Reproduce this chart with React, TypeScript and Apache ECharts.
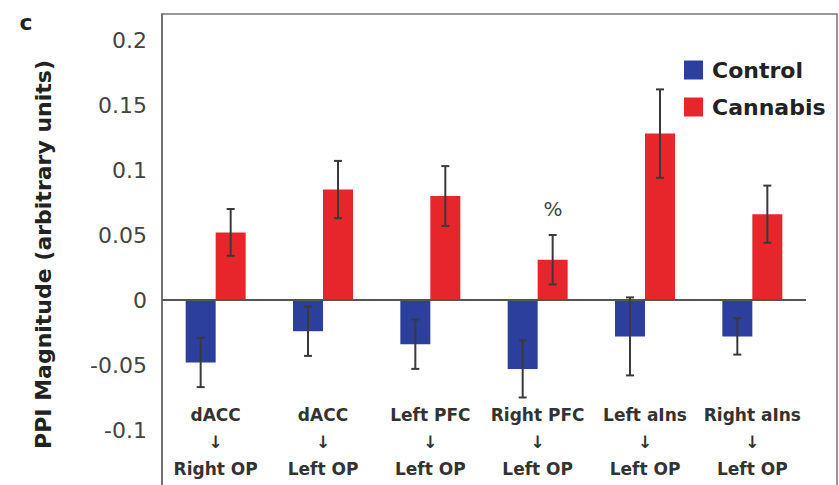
import React, { useEffect, useRef } from "react";
import * as echarts from "echarts";

const categories = [
  "dACC\n↓\nRight OP",
  "dACC\n↓\nLeft OP",
  "Left PFC\n↓\nLeft OP",
  "Right PFC\n↓\nLeft OP",
  "Left aIns\n↓\nLeft OP",
  "Right aIns\n↓\nLeft OP",
];
const controlValues = [-0.048, -0.024, -0.034, -0.053, -0.028, -0.028];
const controlErrors = [0.019, 0.019, 0.019, 0.022, 0.030, 0.014];
const cannabisValues = [0.052, 0.085, 0.080, 0.031, 0.128, 0.066];
const cannabisErrors = [0.018, 0.022, 0.023, 0.019, 0.034, 0.022];
const yTicks = { min: -0.15, max: 0.22, interval: 0.05 };

const BLUE = "#2c3f9c";
const RED = "#e6262b";
const FONT = "DejaVu Sans";
const BAR_W = 30;

function errSeries(values: number[], errors: number[], offset: number) {
  return {
    type: "custom",
    z: 5,
    data: values.map((v, i) => [i, v, errors[i]]),
    encode: { x: 0, y: 1 },
    renderItem: (params: any, api: any) => {
      const i = api.value(0);
      const v = api.value(1);
      const e = api.value(2);
      const x = api.coord([i, v])[0] + offset;
      const yTop = api.coord([i, v + e])[1];
      const yBot = api.coord([i, v - e])[1];
      const style = { stroke: "#3a3a3a", lineWidth: 2 };
      return {
        type: "group",
        children: [
          { type: "line", shape: { x1: x, y1: yTop, x2: x, y2: yBot }, style },
          { type: "line", shape: { x1: x - 4, y1: yTop, x2: x + 4, y2: yTop }, style },
          { type: "line", shape: { x1: x - 4, y1: yBot, x2: x + 4, y2: yBot }, style },
        ],
      };
    },
  };
}

export default function App() {
  const ref = useRef<HTMLDivElement>(null);
  useEffect(() => {
    if (!ref.current) return;
    const chart = echarts.init(ref.current, null, { renderer: "svg" });
    chart.setOption({
      animation: false,
      backgroundColor: "#ffffff",
      grid: {
        left: 162,
        right: 33,
        top: 14,
        bottom: 25,
        containLabel: false,
        outerBoundsMode: "none",
      },
      legend: {
        orient: "vertical",
        left: 684,
        top: 59,
        padding: 0,
        icon: "rect",
        itemWidth: 19,
        itemHeight: 19,
        itemGap: 15,
        textStyle: {
          fontFamily: FONT,
          fontWeight: "bold",
          fontSize: 22,
          color: "#222",
          padding: [0, 0, 0, 4],
        },
        data: ["Control", "Cannabis"],
      },
      xAxis: {
        type: "category",
        data: categories,
        axisLine: { show: false, onZero: false },
        axisTick: { show: false },
        axisLabel: {
          interval: 0,
          inside: true,
          margin: 13,
          fontFamily: FONT,
          fontWeight: "bold",
          fontSize: 17,
          lineHeight: 27,
          color: "#333",
        },
      },
      yAxis: {
        type: "value",
        min: yTicks.min,
        max: yTicks.max,
        interval: yTicks.interval,
        name: "PPI Magnitude (arbitrary units)",
        nameLocation: "middle",
        nameGap: 108,
        nameTextStyle: { fontFamily: FONT, fontWeight: "bold", fontSize: 22, color: "#222" },
        axisLine: { show: true, lineStyle: { color: "#666", width: 1.5 } },
        axisTick: { show: false },
        splitLine: { show: false },
        axisLabel: {
          margin: 15,
          fontFamily: FONT,
          fontSize: 22,
          color: "#444",
          formatter: (v: number) =>
            v > 0.21 || v < -0.14 ? "" : String(Math.round(v * 100) / 100),
        },
      },
      graphic: [
        {
          type: "rect",
          shape: { x: 162, y: 14, width: 675, height: 520 },
          style: { fill: "none", stroke: "#777", lineWidth: 1.5 },
          silent: true,
        },
        {
          type: "text",
          x: 26,
          y: 22,
          style: {
            text: "c",
            fontFamily: FONT,
            fontWeight: "bold",
            fontSize: 22,
            fill: "#222",
            align: "center",
            verticalAlign: "middle",
          },
        },
        {
          type: "text",
          x: 553,
          y: 209,
          style: {
            text: "%",
            fontFamily: FONT,
            fontSize: 20,
            fill: "#444",
            align: "center",
            verticalAlign: "middle",
          },
        },
      ],
      series: [
        {
          name: "Control",
          type: "bar",
          data: controlValues,
          barWidth: BAR_W,
          barGap: "0%",
          itemStyle: { color: BLUE },
          markLine: {
            silent: true,
            symbol: "none",
            label: { show: false },
            lineStyle: { color: "#555", width: 2, type: "solid" },
            data: [{ yAxis: 0 }],
          },
        },
        {
          name: "Cannabis",
          type: "bar",
          data: cannabisValues,
          barWidth: BAR_W,
          barGap: "0%",
          itemStyle: { color: RED },
        },
        errSeries(controlValues, controlErrors, -BAR_W / 2),
        errSeries(cannabisValues, cannabisErrors, BAR_W / 2),
      ],
    });
    return () => chart.dispose();
  }, []);
  return (
    <div
      ref={ref}
      style={{ position: "fixed", left: 0, top: 0, width: 839, height: 520 }}
    />
  );
}
